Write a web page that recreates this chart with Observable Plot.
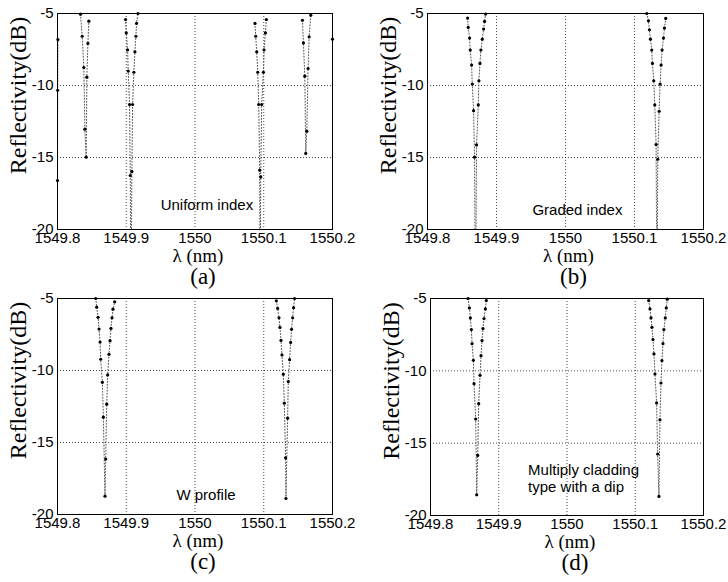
<!DOCTYPE html>
<html>
<head>
<meta charset="utf-8">
<script src="https://cdn.jsdelivr.net/npm/d3@7"></script>
<script src="https://cdn.jsdelivr.net/npm/@observablehq/plot@0.6"></script>
<style>
  html, body { margin: 0; padding: 0; background: #fff; }
  #wrap { position: relative; width: 728px; height: 582px; background: #fff; overflow: hidden; }
  .panel { position: absolute; width: 364px; height: 291px; }
</style>
</head>
<body>
<div id="wrap"></div>
<script>
// ---------- axis ticks & labels ----------
const xTicks = [1549.8, 1549.9, 1550, 1550.1, 1550.2];
const yTicks = [-20, -15, -10, -5];
const xGridValues = [1549.9, 1550, 1550.1];
const yGridValues = [-15, -10];
const xLabel = "λ (nm)";
const yLabel = "Reflectivity(dB)";
const captions = ["(a)", "(b)", "(c)", "(d)"];
const notes = ["Uniform index", "Graded index", "W profile", "Multiply cladding\ntype with a dip"];

// ---------- (a) Uniform index ----------
const uniformLambda = [
  1549.8000, 1549.8003, 1549.8006,
  1549.8335, 1549.8359, 1549.8383, 1549.8398, 1549.8417, 1549.8427, 1549.8442, 1549.8456,
  1549.8990, 1549.9000, 1549.9019, 1549.9029, 1549.9048, 1549.9058, 1549.9068, 1549.9082, 1549.9092, 1549.9111, 1549.9126, 1549.9141, 1549.9150, 1549.9170,
  1550.0873, 1550.0883, 1550.0898, 1550.0912, 1550.0927, 1550.0941, 1550.0948, 1550.0956, 1550.0970, 1550.0995, 1550.1004, 1550.1024, 1550.1038,
  1550.1563, 1550.1577, 1550.1597, 1550.1611, 1550.1626, 1550.1645, 1550.1660, 1550.1684,
  1550.2000
];
const uniformR = [
  -16.6, -10.33, -6.81,
  -5.05, -6.58, -8.75, -13.03, -14.98, -9.42, -7.08, -5.53,
  -5.42, -6.35, -7.53, -9.0, -11.32, -16.25, -26, -15.97, -11.32, -9.08, -7.66, -6.58, -5.69, -5.0,
  -5.69, -6.58, -7.66, -9.08, -11.32, -15.88, -26, -16.35, -11.32, -9.08, -7.53, -6.35, -5.42,
  -5.47, -7.04, -9.35, -14.72, -13.17, -8.82, -6.62, -5.12,
  -6.78
];
const uniformDip = [
  0, 0, 0,
  1, 1, 1, 1, 1, 1, 1, 1,
  2, 2, 2, 2, 2, 2, 2, 2, 2, 2, 2, 2, 2, 2,
  3, 3, 3, 3, 3, 3, 3, 3, 3, 3, 3, 3, 3,
  4, 4, 4, 4, 4, 4, 4, 4,
  5
];

// ---------- (b) Graded index ----------
const gradedLambda = [
  1549.8581, 1549.8590, 1549.8610, 1549.8620, 1549.8639, 1549.8649, 1549.8668, 1549.8682, 1549.8696, 1549.8711, 1549.8736, 1549.8745, 1549.8760, 1549.8774, 1549.8794, 1549.8813, 1549.8827, 1549.8842,
  1550.1178, 1550.1202, 1550.1216, 1550.1231, 1550.1250, 1550.1260, 1550.1279, 1550.1294, 1550.1313, 1550.1326, 1550.1337, 1550.1357, 1550.1371, 1550.1386, 1550.1400, 1550.1420, 1550.1434, 1550.1453
];
const gradedR = [
  -5.32, -5.97, -6.71, -7.54, -8.58, -9.9, -11.75, -14.98, -26, -14.13, -11.35, -9.67, -8.47, -7.54, -6.78, -6.08, -5.55, -5.04,
  -5.0, -5.51, -6.13, -6.78, -7.54, -8.47, -9.67, -11.35, -14.1, -26, -15.12, -11.79, -9.9, -8.58, -7.54, -6.71, -6.01, -5.34
];
const gradedDip = [
  1, 1, 1, 1, 1, 1, 1, 1, 1, 1, 1, 1, 1, 1, 1, 1, 1, 1,
  2, 2, 2, 2, 2, 2, 2, 2, 2, 2, 2, 2, 2, 2, 2, 2, 2, 2
];

// ---------- (c) W profile ----------
const wLambda = [
  1549.8556, 1549.8570, 1549.8590, 1549.8604, 1549.8619, 1549.8628, 1549.8653, 1549.8667, 1549.8691, 1549.8701, 1549.8716, 1549.8730, 1549.8749, 1549.8764, 1549.8778, 1549.8793, 1549.8807, 1549.8832,
  1550.1183, 1550.1202, 1550.1222, 1550.1236, 1550.1251, 1550.1265, 1550.1285, 1550.1299, 1550.1318, 1550.1323, 1550.1347, 1550.1357, 1550.1376, 1550.1391, 1550.1405, 1550.1420, 1550.1434, 1550.1449
];
const wR = [
  -5.0, -5.6, -6.31, -7.12, -8.02, -9.22, -10.82, -13.24, -18.73, -16.15, -12.34, -10.31, -8.88, -7.93, -7.08, -6.34, -5.74, -5.23,
  -5.16, -5.69, -6.34, -7.01, -7.91, -8.92, -10.26, -12.27, -16.07, -18.89, -13.31, -10.77, -9.25, -8.05, -7.14, -6.34, -5.64, -5.0
];
const wDip = gradedDip.slice();

// ---------- (d) Multiply cladding type with a dip ----------
const mcLambda = [
  1549.8550, 1549.8570, 1549.8584, 1549.8599, 1549.8609, 1549.8628, 1549.8638, 1549.8662, 1549.8677, 1549.8692, 1549.8706, 1549.8726, 1549.8740, 1549.8755, 1549.8769, 1549.8784, 1549.8804, 1549.8818,
  1550.1196, 1550.1216, 1550.1231, 1550.1245, 1550.1260, 1550.1274, 1550.1289, 1550.1313, 1550.1328, 1550.1347, 1550.1362, 1550.1377, 1550.1391, 1550.1406, 1550.1420, 1550.1440, 1550.1455, 1550.1469
];
const mcR = [
  -5.0, -5.65, -6.34, -7.15, -8.12, -9.27, -10.89, -13.33, -18.57, -15.85, -12.27, -10.31, -8.95, -7.91, -7.08, -6.39, -5.72, -5.14,
  -5.14, -5.72, -6.34, -6.99, -7.84, -8.83, -10.22, -12.22, -15.75, -18.68, -13.38, -10.84, -9.29, -8.12, -7.15, -6.34, -5.65, -5.05
];
const mcDip = gradedDip.slice();

// ---------- build ----------
function table(lam, r, dip) {
  return lam.map((x, i) => ({x, y: r[i], dip: dip[i]}));
}
const panels = [
  {data: table(uniformLambda, uniformR, uniformDip), left: 0, top: 0,
   m: {l: 57, r: 32, t: 13, b: 62}, note: notes[0], noteX: 1549.950, noteY: -18.3, cap: captions[0]},
  {data: table(gradedLambda, gradedR, gradedDip), left: 364, top: 0,
   m: {l: 63, r: 25, t: 13, b: 62}, note: notes[1], noteX: 1549.952, noteY: -18.65, cap: captions[1]},
  {data: table(wLambda, wR, wDip), left: 0, top: 291,
   m: {l: 57, r: 32, t: 7, b: 68}, note: notes[2], noteX: 1549.973, noteY: -18.6, cap: captions[2]},
  {data: table(mcLambda, mcR, mcDip), left: 364, top: 291,
   m: {l: 66, r: 25, t: 7, b: 67}, note: notes[3], noteX: 1549.943, noteY: -17.42, cap: captions[3]}
];

const fmt = d => String(d);
const serif = "'Liberation Serif', 'Times New Roman', serif";
const sans = "'Liberation Sans', Arial, sans-serif";
const wrap = document.getElementById("wrap");

for (const p of panels) {
  const visible = p.data.filter(d => d.y >= -20.05 && d.y <= -4.95 && d.x >= 1549.7999 && d.x <= 1550.2001);
  const chart = Plot.plot({
    width: 364,
    height: 291,
    marginLeft: p.m.l,
    marginRight: p.m.r,
    marginTop: p.m.t,
    marginBottom: p.m.b,
    style: {fontFamily: sans, fontSize: "15px", background: "transparent", color: "#000", overflow: "visible"},
    x: {domain: [1549.8, 1550.2]},
    y: {domain: [-20, -5]},
    marks: [
      Plot.gridX(xGridValues, {stroke: "#000", strokeOpacity: 0.7, strokeDasharray: "1,2"}),
      Plot.gridY(yGridValues, {stroke: "#000", strokeOpacity: 0.7, strokeDasharray: "1,2"}),
      Plot.line(p.data, {x: "x", y: "y", z: "dip", clip: true, stroke: "#555", strokeWidth: 1, strokeDasharray: "1,2"}),
      Plot.dot(visible, {x: "x", y: "y", r: 1.6, fill: "#000", stroke: "none"}),
      Plot.frame({stroke: "#000", strokeWidth: 1}),
      Plot.axisX(xTicks, {tickSize: 0, tickPadding: 3, tickFormat: fmt, label: null, fontSize: 15}),
      Plot.axisY(yTicks, {tickSize: 0, tickPadding: 4, tickFormat: fmt, label: null, fontSize: 15}),
      Plot.text([yLabel], {text: d => d, frameAnchor: "left", textAnchor: "middle", lineAnchor: "middle",
        rotate: -90, dx: -39, dy: -26, fontFamily: serif, fontSize: 24, fill: "#000"}),
      Plot.text([xLabel], {text: d => d, frameAnchor: "bottom", textAnchor: "middle", lineAnchor: "middle",
        dx: 3, dy: 26, fontFamily: serif, fontSize: 19, fill: "#000"}),
      Plot.text([p.cap], {text: d => d, frameAnchor: "bottom", textAnchor: "middle", lineAnchor: "middle",
        dx: 8, dy: 47, fontFamily: serif, fontSize: 23, fill: "#000"}),
      Plot.text([p.note], {text: d => d, x: () => p.noteX, y: () => p.noteY, textAnchor: "start",
        lineHeight: 1.12, fontFamily: sans, fontSize: 15, fill: "#000"})
    ]
  });
  const div = document.createElement("div");
  div.className = "panel";
  div.style.left = p.left + "px";
  div.style.top = p.top + "px";
  div.appendChild(chart);
  wrap.appendChild(div);
}
</script>
</body>
</html>
